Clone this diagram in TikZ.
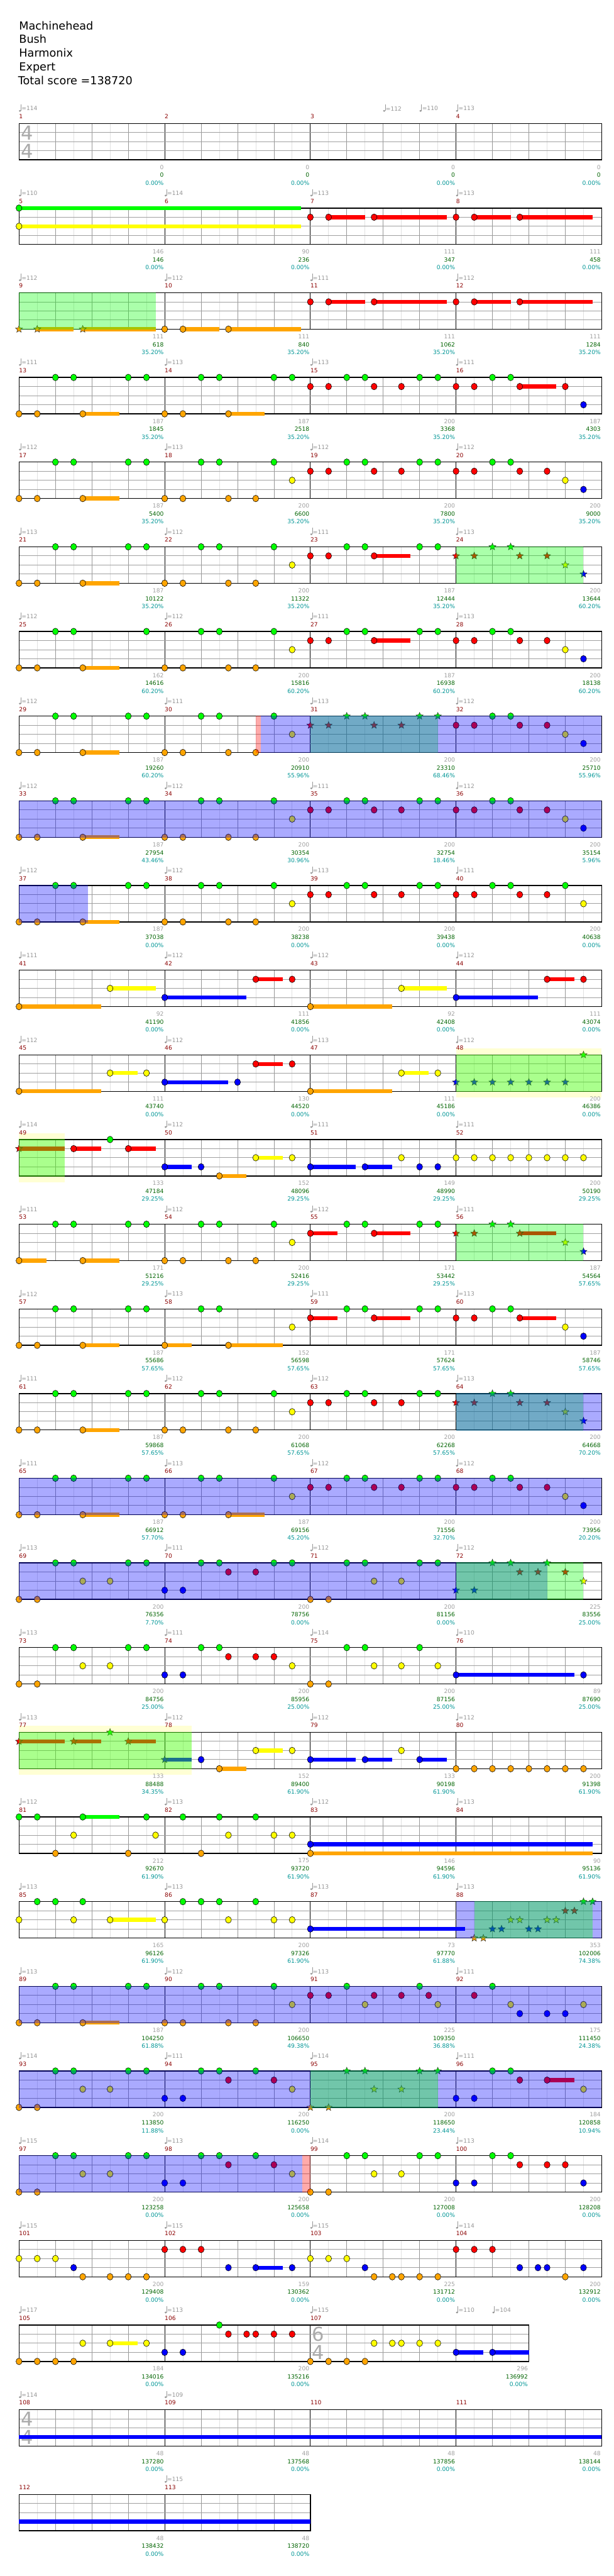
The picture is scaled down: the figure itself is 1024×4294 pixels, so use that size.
\documentclass[tikz,border=0pt]{standalone}
\usepackage{fontspec}
\setmainfont{DejaVu Sans}
\usetikzlibrary{shapes.geometric}
\definecolor{c0}{RGB}{0,255,0}
\definecolor{c1}{RGB}{255,0,0}
\definecolor{c2}{RGB}{255,255,0}
\definecolor{c3}{RGB}{0,0,255}
\definecolor{c4}{RGB}{255,165,0}
\definecolor{mred}{RGB}{139,0,0}
\definecolor{tgray}{RGB}{150,150,150}
\definecolor{sgray}{RGB}{160,160,160}
\definecolor{sgreen}{RGB}{0,100,0}
\definecolor{steal}{RGB}{0,150,150}
\definecolor{eighthc}{RGB}{225,225,225}
\definecolor{beatc}{RGB}{150,150,150}
\definecolor{lanec}{RGB}{160,160,160}
\definecolor{tsigc}{RGB}{170,170,170}
\newcommand\Tp{0}
\newcommand\setrow[1]{\pgfmathsetmacro\Tp{205.7+(#1-1)*141.15}}
\newcommand\staff[2]{%
  \pgfmathsetmacro\xe{31.7+#1*60.75}%
  \foreach \k in {1,...,#1}{\draw[eighthl] ({31.7+(\k-0.5)*60.75},\Tp) -- ++(0,60.7);}
  \foreach \k in {1,...,#1}{\draw[beatl] ({31.7+\k*60.75},\Tp) -- ++(0,60.7);}
  \foreach \k in {#2}{\draw[measl] ({31.7+\k*60.75},\Tp) -- ++(0,60.7);}
  \foreach \k in {1,2,3}{\draw[lanel] (31.7,{\Tp+\k*15.175}) -- (\xe,{\Tp+\k*15.175});}
  \draw[borderl] (31.7,\Tp) rectangle (\xe,{\Tp+60.7});}
\newcommand\nh[2]{\fill[c#1, draw=black, line width=0.6pt] ({31.7+#2*60.75},{\Tp+#1*15.175}) ellipse [x radius=5, y radius=5.5];}
\newcommand\stn[2]{\node[starn, fill=c#1] at ({31.7+#2*60.75},{\Tp+#1*15.175}) {};}
\newcommand\sbar[3]{\fill[c#1] ({31.7+#2*60.75},{\Tp+#1*15.175-3.35}) rectangle ({31.7+#3*60.75},{\Tp+#1*15.175+3.35});}
\newcommand\Nn[2]{\foreach \p in {#2}{\nh{#1}{\p}}}
\newcommand\Tn[2]{\foreach \p in {#2}{\stn{#1}{\p}}}
\newcommand\Su[3]{\sbar{#1}{#2}{#3}\nh{#1}{#2}}
\newcommand\Ts[3]{\sbar{#1}{#2}{#3}\stn{#1}{#2}}
\newcommand\ovl[3]{\fill[#1, fill opacity=0.333] ({31.7+#2*60.75},{\Tp-0.8}) rectangle ({31.7+#3*60.75},{\Tp+61.5});}
\newcommand\yband[2]{\fill[c2, fill opacity=0.17] ({31.7+#1*60.75},{\Tp-10.5}) rectangle ({31.7+#2*60.75},{\Tp+71.2});}
\newcommand\mnm[2]{\node[mnst] at ({31.7+#1*60.75},{\Tp-11.5}) {#2};}
\newcommand\mfour[1]{\mnm{0}{#1}\mnm{4}{\the\numexpr#1+1\relax}\mnm{8}{\the\numexpr#1+2\relax}\mnm{12}{\the\numexpr#1+3\relax}}
\newcommand\tpo[2]{%
  \fill[tgray] ({33.3+#1*60.75},{\Tp-20.9}) ellipse [x radius=1.9, y radius=1.6];
  \draw[tgray, line width=0.7pt] ({35.0+#1*60.75},{\Tp-20.9}) -- ({35.0+#1*60.75},{\Tp-31.5});
  \node[tpst] at ({35.8+#1*60.75},{\Tp-24.7}) {=#2};}
\newcommand\tfour[4]{\tpo{0}{#1}\tpo{4}{#2}\tpo{8}{#3}\tpo{12}{#4}}
\newcommand\scr[4]{%
  \node[scst, text=sgray] at ({30.2+#1*60.75},{\Tp+73.0}) {#2};
  \node[scst, text=sgreen] at ({30.2+#1*60.75},{\Tp+86.3}) {#3};
  \node[scst, text=steal] at ({30.2+#1*60.75},{\Tp+99.3}) {#4\%};}
\newcommand\tsg[3]{%
  \node[tsst] at (#1,{\Tp+15.5}) {#2};
  \node[tsst] at (#1,{\Tp+45.8}) {#3};}
\begin{document}
\begin{tikzpicture}[x=1pt,y=-1pt,
  eighthl/.style={draw=eighthc, line width=0.8pt},
  beatl/.style={draw=beatc, line width=0.8pt},
  measl/.style={draw=black, line width=0.8pt},
  lanel/.style={draw=lanec, line width=1pt},
  borderl/.style={draw=black, line width=1.4pt},
  starn/.style={star, star points=5, star point ratio=2.3, minimum size=12.5pt, inner sep=0pt, draw=black!85, line width=0.5pt},
  mnst/.style={anchor=west, inner sep=0pt, text=mred, font=\fontsize{9.6}{10}\selectfont},
  tpst/.style={anchor=west, inner sep=0pt, text=tgray, font=\fontsize{9.6}{10}\selectfont},
  scst/.style={anchor=east, inner sep=0pt, font=\fontsize{9.6}{10}\selectfont},
  tsst/.style={inner sep=0pt, text=tsigc, font=\fontsize{32}{32}\selectfont},
  titlest/.style={anchor=base west, inner sep=0pt, font=\fontsize{18.5}{20}\selectfont}]
\useasboundingbox (0,0) rectangle (1024,4294);
\fill[white] (0,0) rectangle (1024,4294);
\node[titlest] (t1) at (31.7,49.3) {Machinehead};
\node[titlest] (t2) at (31.7,72.1) {Bush};
\node[titlest] (t3) at (31.7,94.9) {Harmonix};
\node[titlest] (t4) at (31.7,117.7) {Expert};
\node[titlest] (t5) at (30,140.5) {Total score =138720};
% ---- row 1
\setrow{1}\staff{16}{4,8,12}\tsg{45}{4}{4}
\mfour{1}\tpo{0}{114}\tpo{10}{112}\tpo{11}{110}\tpo{12}{113}
\scr{4}{0}{0}{0.00}\scr{8}{0}{0}{0.00}\scr{12}{0}{0}{0.00}\scr{16}{0}{0}{0.00}
% ---- row 2
\setrow{2}\staff{16}{4,8,12}
\Su{0}{0}{7.75}\Su{2}{0}{7.75}
\Nn{1}{8,12}\Su{1}{8.5}{9.5}\Su{1}{9.75}{11.75}\Su{1}{12.5}{13.5}\Su{1}{13.75}{15.75}
\mfour{5}\tfour{110}{114}{113}{113}
\scr{4}{146}{146}{0.00}\scr{8}{90}{236}{0.00}\scr{12}{111}{347}{0.00}\scr{16}{111}{458}{0.00}
% ---- row 3
\setrow{3}\staff{16}{4,8,12}
\Tn{4}{0}\Ts{4}{0.5}{1.5}\Ts{4}{1.75}{3.75}\Nn{4}{4}\Su{4}{4.5}{5.5}\Su{4}{5.75}{7.75}
\Nn{1}{8,12}\Su{1}{8.5}{9.5}\Su{1}{9.75}{11.75}\Su{1}{12.5}{13.5}\Su{1}{13.75}{15.75}
\ovl{c0}{0}{3.75}
\mfour{9}\tfour{112}{112}{111}{112}
\scr{4}{111}{618}{35.20}\scr{8}{111}{840}{35.20}\scr{12}{111}{1062}{35.20}\scr{16}{111}{1284}{35.20}
% ---- row 4
\setrow{4}\staff{16}{4,8,12}
\Nn{0}{1,1.5,3,3.5,5,5.5,7,7.5,9,9.5,11,11.5,13,13.5}
\Nn{1}{8,8.5,9.75,10.5,12,12.5,15}\Su{1}{13.75}{14.75}
\Nn{3}{15.5}
\Nn{4}{0,0.5,4,4.5}\Su{4}{1.75}{2.75}\Su{4}{5.75}{6.75}
\mfour{13}\tfour{111}{113}{113}{111}
\scr{4}{187}{1845}{35.20}\scr{8}{187}{2518}{35.20}\scr{12}{200}{3368}{35.20}\scr{16}{187}{4303}{35.20}
% ---- row 5
\setrow{5}\staff{16}{4,8,12}
\Nn{0}{1,1.5,3,3.5,5,5.5,7,9,9.5,11,11.5,13,13.5}
\Nn{1}{8,8.5,9.75,10.5,12,12.5,13.75,14.5}
\Nn{2}{7.5,15}\Nn{3}{15.5}
\Nn{4}{0,0.5,4,4.5,5.75,6.5}\Su{4}{1.75}{2.75}
\mfour{17}\tfour{112}{113}{112}{112}
\scr{4}{187}{5400}{35.20}\scr{8}{200}{6600}{35.20}\scr{12}{200}{7800}{35.20}\scr{16}{200}{9000}{35.20}
% ---- row 6
\setrow{6}\staff{16}{4,8,12}
\Nn{0}{1,1.5,3,3.5,5,5.5,7,9,9.5,11,11.5}\Tn{0}{13,13.5}
\Nn{1}{8,8.5}\Su{1}{9.75}{10.75}\Tn{1}{12,12.5,13.75,14.5}
\Nn{2}{7.5}\Tn{2}{15}\Tn{3}{15.5}
\Nn{4}{0,0.5,4,4.5,5.75,6.5}\Su{4}{1.75}{2.75}
\ovl{c0}{12}{15.5}
\mfour{21}\tfour{113}{112}{111}{113}
\scr{4}{187}{10122}{35.20}\scr{8}{200}{11322}{35.20}\scr{12}{187}{12444}{35.20}\scr{16}{200}{13644}{60.20}
% ---- row 7
\setrow{7}\staff{16}{4,8,12}
\Nn{0}{1,1.5,3.5,5,5.5,7,9,9.5,11,11.5,13,13.5}
\Nn{1}{8,8.5,12,12.5,13.75,14.5}\Su{1}{9.75}{10.75}
\Nn{2}{7.5,15}\Nn{3}{15.5}
\Nn{4}{0,0.5,4,4.5,5.75,6.5}\Su{4}{1.75}{2.75}
\mfour{25}\tfour{112}{112}{111}{113}
\scr{4}{162}{14616}{60.20}\scr{8}{200}{15816}{60.20}\scr{12}{187}{16938}{60.20}\scr{16}{200}{18138}{60.20}
% ---- row 8
\setrow{8}\staff{16}{4,8,12}
\Nn{0}{1,1.5,3,3.5,5,5.5,7,13,13.5}\Tn{0}{9,9.5,11,11.5}
\Tn{1}{8,8.5,9.75,10.5}\Nn{1}{12,12.5,13.75,14.5}
\Nn{2}{7.5,15}\Nn{3}{15.5}
\Nn{4}{0,0.5,4,4.5,5.75,6.5}\Su{4}{1.75}{2.75}
\ovl{c0}{8}{11.5}\ovl{c3}{6.632}{16}\ovl{c1}{6.5}{6.632}
\mfour{29}\tfour{112}{111}{113}{112}
\scr{4}{187}{19260}{60.20}\scr{8}{200}{20910}{55.96}\scr{12}{200}{23310}{68.46}\scr{16}{200}{25710}{55.96}
% ---- row 9
\setrow{9}\staff{16}{4,8,12}
\Nn{0}{1,1.5,3,3.5,5,5.5,7,9,9.5,11,11.5,13,13.5}
\Nn{1}{8,8.5,9.75,10.5,12,12.5,13.75,14.5}
\Nn{2}{7.5,15}\Nn{3}{15.5}
\Nn{4}{0,0.5,4,4.5,5.75,6.5}\Su{4}{1.75}{2.75}
\ovl{c3}{0}{16}
\mfour{33}\tfour{112}{112}{111}{112}
\scr{4}{187}{27954}{43.46}\scr{8}{200}{30354}{30.96}\scr{12}{200}{32754}{18.46}\scr{16}{200}{35154}{5.96}
% ---- row 10
\setrow{10}\staff{16}{4,8,12}
\Nn{0}{1,1.5,3,3.5,5,5.5,7,9,9.5,11,11.5,13,13.5,15}
\Nn{1}{8,8.5,9.75,10.5,12,12.5,13.75,14.5}
\Nn{2}{7.5,15.5}
\Nn{4}{0,0.5,4,4.5,5.75,6.5}\Su{4}{1.75}{2.75}
\ovl{c3}{0}{1.894}
\mfour{37}\tfour{112}{112}{113}{111}
\scr{4}{187}{37038}{0.00}\scr{8}{200}{38238}{0.00}\scr{12}{200}{39438}{0.00}\scr{16}{200}{40638}{0.00}
% ---- row 11
\setrow{11}\staff{16}{4,8,12}
\Su{4}{0}{2.25}\Su{4}{8}{10.25}
\Su{2}{2.5}{3.75}\Su{2}{10.5}{11.75}
\Su{3}{4}{6.25}\Su{3}{12}{14.25}
\Su{1}{6.5}{7.25}\Nn{1}{7.5,15.5}\Su{1}{14.5}{15.25}
\mfour{41}\tfour{111}{112}{112}{112}
\scr{4}{92}{41190}{0.00}\scr{8}{111}{41856}{0.00}\scr{12}{92}{42408}{0.00}\scr{16}{111}{43074}{0.00}
% ---- row 12
\setrow{12}\staff{16}{4,8,12}
\Su{4}{0}{2.25}\Su{4}{8}{10.25}
\Su{2}{2.5}{3.25}\Nn{2}{3.5,11.5}\Su{2}{10.5}{11.25}
\Su{3}{4}{5.75}\Nn{3}{6}\Tn{3}{12,12.5,13,13.5,14,14.5,15}
\Su{1}{6.5}{7.25}\Nn{1}{7.5}
\Tn{0}{15.5}
\yband{12}{16}\ovl{c0}{12}{16}
\mfour{45}\tfour{112}{112}{113}{112}
\scr{4}{111}{43740}{0.00}\scr{8}{130}{44520}{0.00}\scr{12}{111}{45186}{0.00}\scr{16}{200}{46386}{0.00}
% ---- row 13
\setrow{13}\staff{16}{4,8,12}
\Ts{1}{0}{1.25}\Su{1}{1.5}{2.25}\Su{1}{3}{3.75}
\Nn{0}{2.5}
\Su{3}{4}{4.75}\Nn{3}{5,11,11.5}\Su{3}{8}{9.25}\Su{3}{9.5}{10.25}
\Su{4}{5.5}{6.25}
\Su{2}{6.5}{7.25}\Nn{2}{7.5,10.5,12,12.5,13,13.5,14,14.5,15,15.5}
\yband{0}{1.25}\ovl{c0}{0}{1.25}
\mfour{49}\tfour{114}{112}{111}{111}
\scr{4}{133}{47184}{29.25}\scr{8}{152}{48096}{29.25}\scr{12}{149}{48990}{29.25}\scr{16}{200}{50190}{29.25}
% ---- row 14
\setrow{14}\staff{16}{4,8,12}
\Nn{0}{1,1.5,3,3.5,5,5.5,7,9,9.5,11,11.5}\Tn{0}{13,13.5}
\Su{1}{8}{8.75}\Su{1}{9.75}{10.75}\Tn{1}{12,12.5}\Ts{1}{13.75}{14.75}
\Nn{2}{7.5}\Tn{2}{15}\Tn{3}{15.5}
\Su{4}{0}{0.75}\Su{4}{1.75}{2.75}\Nn{4}{4,4.5,5.75,6.5}
\ovl{c0}{12}{15.5}
\mfour{53}\tfour{111}{112}{112}{111}
\scr{4}{171}{51216}{29.25}\scr{8}{200}{52416}{29.25}\scr{12}{171}{53442}{29.25}\scr{16}{187}{54564}{57.65}
% ---- row 15
\setrow{15}\staff{16}{4,8,12}
\Nn{0}{1,1.5,3,3.5,5,5.5,9,9.5,11,11.5,13,13.5}
\Su{1}{8}{8.75}\Su{1}{9.75}{10.75}\Nn{1}{12,12.5}\Su{1}{13.75}{14.75}
\Nn{2}{7.5,15}\Nn{3}{15.5}
\Nn{4}{0,0.5}\Su{4}{1.75}{2.75}\Su{4}{4}{4.75}\Su{4}{5.75}{7.25}
\mfour{57}\tfour{112}{113}{111}{113}
\scr{4}{187}{55686}{57.65}\scr{8}{152}{56598}{57.65}\scr{12}{171}{57624}{57.65}\scr{16}{187}{58746}{57.65}
% ---- row 16
\setrow{16}\staff{16}{4,8,12}
\Nn{0}{1,1.5,3,3.5,5,5.5,7,9,9.5,11,11.5}\Tn{0}{13,13.5}
\Nn{1}{8,8.5,9.75,10.5}\Tn{1}{12,12.5,13.75,14.5}
\Nn{2}{7.5}\Tn{2}{15}\Tn{3}{15.5}
\Nn{4}{0,0.5,4,4.5,5.75,6.5}\Su{4}{1.75}{2.75}
\ovl{c0}{12}{15.5}\ovl{c3}{12}{16}
\mfour{61}\tfour{111}{112}{112}{113}
\scr{4}{187}{59868}{57.65}\scr{8}{200}{61068}{57.65}\scr{12}{200}{62268}{57.65}\scr{16}{200}{64668}{70.20}
% ---- row 17
\setrow{17}\staff{16}{4,8,12}
\Nn{0}{1,1.5,3,3.5,5,5.5,7,9,9.5,11,11.5,13,13.5}
\Nn{1}{8,8.5,9.75,10.5,12,12.5,13.75,14.5}
\Nn{2}{7.5,15}\Nn{3}{15.5}
\Nn{4}{0,0.5,4,4.5}\Su{4}{1.75}{2.75}\Su{4}{5.75}{6.75}
\ovl{c3}{0}{16}
\mfour{65}\tfour{111}{113}{112}{112}
\scr{4}{187}{66912}{57.70}\scr{8}{187}{69156}{45.20}\scr{12}{200}{71556}{32.70}\scr{16}{200}{73956}{20.20}
% ---- row 18
\setrow{18}\staff{16}{4,8,12}
\Nn{0}{1,1.5,3,3.5,5,5.5,7,7.5,9,9.5,11,11.5}\Tn{0}{13,13.5,14.5}
\Nn{1}{5.75,6.5}\Tn{1}{13.75,14.25,15}
\Nn{2}{1.75,2.5,9.75,10.5}\Tn{2}{15.5}
\Nn{3}{4,4.5}\Tn{3}{12,12.5}
\Nn{4}{0,0.5,8,8.5}
\ovl{c3}{0}{14.5}\ovl{c0}{12}{15.5}
\mfour{69}\tfour{113}{111}{112}{112}
\scr{4}{200}{76356}{7.70}\scr{8}{200}{78756}{0.00}\scr{12}{200}{81156}{0.00}\scr{16}{225}{83556}{25.00}
% ---- row 19
\setrow{19}\staff{16}{4,8,12}
\Nn{0}{1,1.5,3,3.5,5,5.5,9,9.5,11}
\Nn{1}{5.75,6.5,7}
\Nn{2}{1.75,2.5,7.5,9.75,10.5,11.5}
\Nn{3}{4,4.5,15.5}\Su{3}{12}{15.25}
\Nn{4}{0,0.5,8,8.5}
\mfour{73}\tfour{113}{111}{114}{110}
\scr{4}{200}{84756}{25.00}\scr{8}{200}{85956}{25.00}\scr{12}{200}{87156}{25.00}\scr{16}{89}{87690}{25.00}
% ---- row 20
\setrow{20}\staff{16}{4,8,12}
\Ts{1}{0}{1.25}\Ts{1}{1.5}{2.25}\Ts{1}{3}{3.75}
\Tn{0}{2.5}
\Ts{3}{4}{4.75}\Nn{3}{5}\Su{3}{8}{9.25}\Su{3}{9.5}{10.25}\Su{3}{11}{11.75}
\Su{4}{5.5}{6.25}\Nn{4}{12,12.5,13,13.5,14,14.5,15,15.5}
\Su{2}{6.5}{7.25}\Nn{2}{7.5,10.5}
\yband{0}{4.75}\ovl{c0}{0}{4.75}
\mfour{77}\tfour{113}{112}{112}{112}
\scr{4}{133}{88488}{34.35}\scr{8}{152}{89400}{61.90}\scr{12}{133}{90198}{61.90}\scr{16}{200}{91398}{61.90}
% ---- row 21
\setrow{21}\staff{16}{4,8,12}
\Nn{0}{0,0.5,3.5,4.5,5.5,6.5}\Su{0}{1.75}{2.75}
\Nn{2}{1.5,3.75,5.75,7,7.5}
\Nn{4}{1,3,5}\Su{4}{8}{15.75}
\Su{3}{8}{15.75}
\mfour{81}\tfour{112}{113}{112}{113}
\scr{4}{212}{92670}{61.90}\scr{8}{175}{93720}{61.90}\scr{12}{146}{94596}{61.90}\scr{16}{90}{95136}{61.90}
% ---- row 22
\setrow{22}\staff{16}{4,8,12}
\Nn{0}{0.5,1,1.75,4.5,5,5.5,6.5}\Tn{0}{15.5,15.75}
\Nn{2}{0,1.5,4,5.75,7,7.5}\Su{2}{2.5}{3.75}\Tn{2}{13.5,13.75,14.5,14.75}
\Su{3}{8}{12.25}\Tn{3}{13,13.25,14,14.25}
\Tn{1}{15,15.25}
\Tn{4}{12.5,12.75}
\ovl{c3}{12}{16}\ovl{c0}{12.5}{15.75}
\mfour{85}\tfour{113}{113}{113}{113}
\scr{4}{165}{96126}{61.90}\scr{8}{200}{97326}{61.90}\scr{12}{73}{97770}{61.88}\scr{16}{353}{102006}{74.38}
% ---- row 23
\setrow{23}\staff{16}{4,8,12}
\Nn{0}{1,1.5,3,3.5,5,5.5,7,9,11,13}
\Nn{1}{8,8.5,9.75,10.5,11.25,12.5}
\Nn{2}{7.5,9.5,11.5,13.5,15.5}
\Nn{3}{13.75,14.5,15}
\Nn{4}{0,0.5,4,4.5,5.75,6.5}\Su{4}{1.75}{2.75}
\ovl{c3}{0}{16}
\mfour{89}\tfour{113}{112}{113}{111}
\scr{4}{187}{104250}{61.88}\scr{8}{200}{106650}{49.38}\scr{12}{225}{109350}{36.88}\scr{16}{175}{111450}{24.38}
% ---- row 24
\setrow{24}\staff{16}{4,8,12}
\Nn{0}{1,1.5,3,3.5,5,5.5,6.5,13,13.5}\Tn{0}{9,9.5,11,11.5}
\Nn{1}{5.75,7,13.75}\Su{1}{14.5}{15.25}
\Nn{2}{1.75,2.5,7.5,15.5}\Tn{2}{9.75,10.5}
\Nn{3}{4,4.5,12,12.5}
\Nn{4}{0,0.5}\Tn{4}{8,8.5}
\ovl{c3}{0}{16}\ovl{c0}{8}{11.5}
\mfour{93}\tfour{114}{111}{114}{111}
\scr{4}{200}{113850}{11.88}\scr{8}{200}{116250}{0.00}\scr{12}{200}{118650}{23.44}\scr{16}{184}{120858}{10.94}
% ---- row 25
\setrow{25}\staff{16}{4,8,12}
\Nn{0}{1,1.5,3,3.5,5,5.5,6.5,9,9.5,11,11.5,13,13.5}
\Nn{1}{5.75,7,13.75,14.5,15}
\Nn{2}{1.75,2.5,7.5,9.75,10.5}
\Nn{3}{4,4.5,12,12.5,15.5}
\Nn{4}{0,0.5,8,8.5}
\ovl{c3}{0}{7.78}\ovl{c1}{7.78}{8}
\mfour{97}\tfour{115}{113}{114}{113}
\scr{4}{200}{123258}{0.00}\scr{8}{200}{125658}{0.00}\scr{12}{200}{127008}{0.00}\scr{16}{200}{128208}{0.00}
% ---- row 26
\setrow{26}\staff{16}{4,8,12}
\Nn{2}{0,0.5,1,8,8.5,9}
\Nn{3}{1.5,5.75,7.5,9.5,13.75,14.25,14.5,15.5}\Su{3}{6.5}{7.25}
\Nn{4}{1.75,2.5,3,3.5,9.75,10.25,10.5,11,11.5,15}
\Nn{1}{4,4.5,5,12,12.5,13}
\mfour{101}\tfour{115}{115}{115}{114}
\scr{4}{200}{129408}{0.00}\scr{8}{159}{130362}{0.00}\scr{12}{225}{131712}{0.00}\scr{16}{200}{132912}{0.00}
% ---- row 27
\setrow{27}\staff{14}{4,8}\tsg{531}{6}{4}
\Nn{2}{1.75,3.5,9.75,10.25,10.5,11,11.5}\Su{2}{2.5}{3.25}
\Nn{4}{0,0.5,1,1.5,8,8.5,9,9.5}
\Nn{3}{4,4.5}\Su{3}{12}{12.75}\Su{3}{13}{14}
\Nn{0}{5.5}
\Nn{1}{5.75,6.25,6.5,7,7.5}
\mnm{0}{105}\mnm{4}{106}\mnm{8}{107}
\tpo{0}{117}\tpo{4}{113}\tpo{8}{115}\tpo{12}{110}\tpo{13}{104}
\scr{4}{184}{134016}{0.00}\scr{8}{200}{135216}{0.00}\scr{14}{296}{136992}{0.00}
% ---- row 28
\setrow{28}\staff{16}{4,8,12}\tsg{45}{4}{4}
\sbar{3}{0}{16}
\mfour{108}\tpo{0}{114}\tpo{4}{109}
\scr{4}{48}{137280}{0.00}\scr{8}{48}{137568}{0.00}\scr{12}{48}{137856}{0.00}\scr{16}{48}{138144}{0.00}
% ---- row 29
\setrow{29}\staff{8}{4}
\sbar{3}{0}{8}
\mnm{0}{112}\mnm{4}{113}\tpo{4}{115}
\scr{4}{48}{138432}{0.00}\scr{8}{48}{138720}{0.00}
\end{tikzpicture}
\end{document}
